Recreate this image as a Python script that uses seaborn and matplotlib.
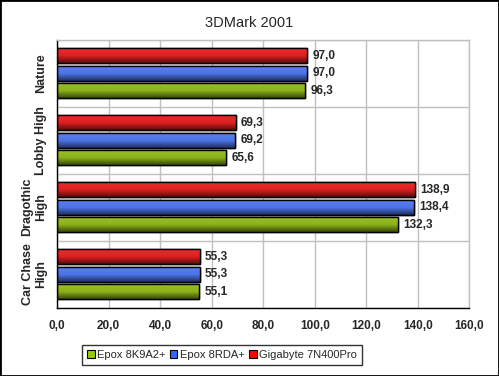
import numpy as np
import pandas as pd
import matplotlib
matplotlib.use("Agg")
import matplotlib.pyplot as plt
import seaborn as sns
from matplotlib.colors import LinearSegmentedColormap, to_rgb
from matplotlib.patches import Patch, Rectangle

# --- data ---
tests = ["Nature", "Lobby High", "Dragothic\nHigh", "Car Chase\nHigh"]
boards = ["Gigabyte 7N400Pro", "Epox 8RDA+", "Epox 8K9A2+"]  # top-to-bottom inside each group
gigabyte = [97.0, 69.3, 138.9, 55.3]
epox_8rda = [97.0, 69.2, 138.4, 55.3]
epox_8k9a2 = [96.3, 65.6, 132.3, 55.1]
xticks = [0, 20, 40, 60, 80, 100, 120, 140, 160]
legend_order = ["Epox 8K9A2+", "Epox 8RDA+", "Gigabyte 7N400Pro"]

colors = {"Gigabyte 7N400Pro": "#ff0000", "Epox 8RDA+": "#3366ff", "Epox 8K9A2+": "#99cc00"}

df = pd.DataFrame({
    "test": tests * 3,
    "board": [b for b in boards for _ in tests],
    "value": gigabyte + epox_8rda + epox_8k9a2,
})

sns.set_style("white")
plt.rcParams["font.family"] = ["Liberation Sans", "DejaVu Sans"]

fig = plt.figure(figsize=(4.99, 3.76), dpi=100)
ax = fig.add_axes([0.1145, 0.1817, 0.8260, 0.7128])

sns.barplot(ax=ax, data=df, y="test", x="value", hue="board", hue_order=boards,
            order=tests, orient="h", palette=colors, width=0.78, gap=0.14,
            edgecolor="black", linewidth=1.0, legend=False)

# vertical gradient fill inside each bar
def gradient_cmap(c):
    r, g, b = to_rgb(c)
    top = (min(1, r + 0.05), min(1, g + 0.05), min(1, b + 0.05))
    bot = (r * 0.4, g * 0.4, b * 0.4)
    return LinearSegmentedColormap.from_list("g", [top, (r, g, b), bot])

grad = np.linspace(0, 1, 64).reshape(-1, 1)
for patch in list(ax.patches):
    x0, y0 = patch.get_x(), patch.get_y()
    w, h = patch.get_width(), patch.get_height()
    if w <= 0:
        continue
    cmap = gradient_cmap(patch.get_facecolor())
    im = ax.imshow(grad, cmap=cmap, aspect="auto", origin="lower",
                   extent=(x0, x0 + w, y0, y0 + h), zorder=patch.get_zorder() + 0.1)
    im.set_clip_path(patch)
    edge = Rectangle((x0, y0), w, h, fill=False, edgecolor="black", lw=1.0,
                     zorder=patch.get_zorder() + 0.2)
    ax.add_patch(edge)
    val = f"{w:.1f}".replace(".", ",")
    ax.text(x0 + w + 2.0, y0 + h / 2, val, va="center", ha="left",
            fontsize=8.5, fontweight="bold", zorder=5)

ax.set_xlim(0, 160)
ax.set_ylim(len(tests) - 0.5, -0.5)
ax.set_xticks(xticks)
ax.set_xticklabels([f"{t:.1f}".replace(".", ",") for t in xticks], fontsize=8.5, fontweight="bold")
ax.set_yticks(range(len(tests)))
ax.set_yticklabels(tests, rotation=90, va="center", ha="right", multialignment="center",
                   fontsize=9, fontweight="bold")
ax.set_yticks(np.arange(-0.5, len(tests), 1.0), minor=True)
ax.tick_params(axis="y", which="major", length=0, pad=7)
ax.tick_params(axis="y", which="minor", length=4, direction="out", width=1, color="black")
ax.tick_params(axis="x", which="major", length=4, direction="out", width=1, color="black", pad=5)

ax.set_axisbelow(True)
ax.grid(True, axis="x", which="major", color="#c0c0c0", lw=1.0)
ax.grid(True, axis="y", which="minor", color="#c0c0c0", lw=1.0)
ax.grid(False, axis="y", which="major")
for side in ["top", "right"]:
    ax.spines[side].set_color("#c0c0c0")
for side in ["left", "bottom"]:
    ax.spines[side].set_color("black")
for s in ax.spines.values():
    s.set_linewidth(1.0)
ax.set_xlabel("")
ax.set_ylabel("")

fig.text(0.5, 0.938, "3DMark 2001", ha="center", va="center", fontsize=10.5)

handles = [Patch(facecolor=colors[b], edgecolor="black", lw=0.8) for b in legend_order]
leg = fig.legend(handles, legend_order, loc="center", bbox_to_anchor=(0.445, 0.057),
                 ncol=3, fontsize=8, frameon=True, fancybox=False, edgecolor="black",
                 handlelength=0.7, handleheight=0.7, handletextpad=0.25, columnspacing=0.35,
                 borderpad=0.45, borderaxespad=0)
leg.get_frame().set_linewidth(1.0)

fig.add_artist(Rectangle((0, 0), 1, 1, transform=fig.transFigure, fill=False,
                         edgecolor="black", lw=2))

fig.savefig("out.png", dpi=100)
